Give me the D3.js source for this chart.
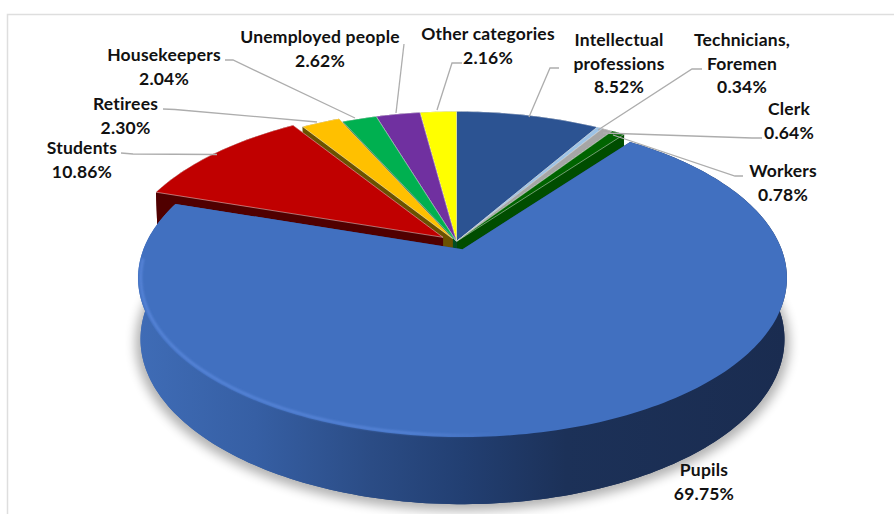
<!DOCTYPE html>
<html>
<head>
<meta charset="utf-8">
<script src="https://cdn.jsdelivr.net/npm/d3@7"></script>
<style>
html,body{margin:0;padding:0;background:#fff;}
svg{display:block;}
text{font-family:Lato,"Open Sans",sans-serif;font-weight:700;font-size:17.5px;letter-spacing:0.2px;fill:#111;text-anchor:middle;}
</style>
</head>
<body>
<svg id="chart" width="894" height="514"></svg>
<script>
// Occupational breakdown, clockwise from twelve o'clock
const categories = ["Intellectual professions","Technicians, Foremen","Clerk","Workers","Pupils","Students","Retirees","Housekeepers","Unemployed people","Other categories"];
const shares = [8.52,0.34,0.64,0.78,69.75,10.86,2.30,2.04,2.62,2.16];
const topColors = ["#2c5392","#9dc3e6","#a6a6a6","#006400","#4170c0","#c00000","#ffc000","#00b050","#7030a0","#ffff00"];
const wallColors = ["#1a3158","#5e7a94","#666666","#004d00","#2b4c85","#500000","#6b5200","#004f24","#32154a","#707000"];
const explosions = [0,0,0,0,20,17,8,0,0,0];

// Line breaks of the data labels, and where each label block sits
const labelLines = [["Intellectual","professions"],["Technicians,","Foremen"],["Clerk"],["Workers"],["Pupils"],["Students"],["Retirees"],["Housekeepers"],["Unemployed people"],["Other categories"]];
const labelAnchors = [[619,46],[742,46],[789,115],[783,177],[704,476],[82,154],[125.5,110],[164,61],[320,43],[488,40]];
const leaderPaths = [
  [[559,68],[550,68],[529,117]],
  [[702,69],[692,69],[598,130]],
  [[762,138],[752,138],[603,133]],
  [[743,176],[735,176],[613,135]],
  [],
  [[121,153],[133,154],[217,154.5]],
  [[163,109],[175,109.5],[317,122]],
  [[225,60],[233,60],[355,118]],
  [[404,44],[396,113]],
  [[462,63],[452,63],[437,110]]
];

const svg = d3.select("#chart");
const defs = svg.append("defs");
const lineGen = d3.line();

// Perspective view of the disc: the near edge is larger than the far edge
const hub = {x:456.5, y:241.5};
const view = {a:319, b:153.7, k:0.182, depth:60};
function project(angle, radius, height, apex){
  const u = Math.sin(angle)*radius, v = Math.cos(angle)*radius;
  const w = 1 + view.k*v;
  return [
    apex.x + view.a*(1-0.0075*height)*u/w,
    apex.y + view.depth*height - view.b*(1+0.038*height)*v/w
  ];
}
function arcPoints(a0, a1, height, apex, radius=1){
  const n = Math.max(2, Math.ceil(Math.abs(a1-a0)/0.02));
  return d3.range(n+1).map(i => project(a0+(a1-a0)*i/n, radius, height, apex));
}

const pie = d3.pie().sort(null).startAngle(0).endAngle(2*Math.PI);
const slices = pie(shares).map((d,i) => {
  const mid = (d.startAngle+d.endAngle)/2, m = explosions[i];
  return {i, a0:d.startAngle, a1:d.endAngle,
    apex:{x:hub.x+m*Math.sin(mid), y:hub.y-m*0.4*Math.cos(mid)}};
});

// Page frame
svg.append("path").attr("d","M7.5,514V14.5H894").attr("fill","none").attr("stroke","#dedede").attr("stroke-width",1.5);

// Soft drop shadow under the big slice
defs.append("filter").attr("id","shadow").attr("x","-10%").attr("y","-10%").attr("width","120%").attr("height","125%")
  .append("feGaussianBlur").attr("stdDeviation",5.5);
const big = slices[4];
svg.append("path")
  .attr("d",lineGen(arcPoints(big.a0,big.a1,1,big.apex,1.015).map(p=>[p[0],p[1]+3]))+"Z")
  .attr("fill","#000").attr("opacity",0.3).attr("filter","url(#shadow)");

// Shading across the side wall of the big slice
const wallGrad = defs.append("linearGradient").attr("id","wallGrad").attr("gradientUnits","userSpaceOnUse")
  .attr("x1",138).attr("x2",787).attr("y1",0).attr("y2",0);
[[0,"#3f6cb6"],[0.18,"#365fa4"],[0.36,"#2b4c85"],[0.5,"#223f72"],[0.66,"#1c3158"],[1,"#1a2c50"]]
  .forEach(s=>wallGrad.append("stop").attr("offset",s[0]).attr("stop-color",s[1]));

// Bright bevel along the front rim
const rimGrad = defs.append("linearGradient").attr("id","rimGrad").attr("gradientUnits","userSpaceOnUse")
  .attr("x1",138).attr("x2",787).attr("y1",0).attr("y2",0);
[[0,"#5a88dc",0.9],[0.42,"#5a88dc",0.8],[0.56,"#5a88dc",0]]
  .forEach(s=>rimGrad.append("stop").attr("offset",s[0]).attr("stop-color",s[1]).attr("stop-opacity",s[2]));
defs.append("filter").attr("id","soft").append("feGaussianBlur").attr("stdDeviation",1);

// Painted back to front: right group, left group inward to the red slice, big slice last
const paintOrder = [0,1,2,3,9,8,7,6,5,4];
paintOrder.forEach(idx => {
  const s = slices[idx];
  const fill = idx===4 ? "url(#wallGrad)" : wallColors[idx];
  const g = svg.append("g").attr("class","slice");
  const topArc = arcPoints(s.a0,s.a1,0,s.apex), lowArc = arcPoints(s.a0,s.a1,1,s.apex);
  const topApex = [s.apex.x,s.apex.y], lowApex = [s.apex.x,s.apex.y+view.depth];
  // base plus extruded side faces
  g.append("path").attr("d",lineGen([lowApex,...lowArc])+"Z").attr("fill",fill);
  g.append("path").attr("d",lineGen([...topArc,...lowArc.slice().reverse()])+"Z").attr("fill",fill);
  g.append("path").attr("d",lineGen([topApex,topArc[0],lowArc[0],lowApex])+"Z").attr("fill",fill);
  g.append("path").attr("d",lineGen([topApex,topArc[topArc.length-1],lowArc[lowArc.length-1],lowApex])+"Z").attr("fill",fill);
  // upper face
  g.append("path").attr("d",lineGen([topApex,...topArc])+"Z")
    .attr("fill",topColors[idx]).attr("stroke","rgba(255,255,255,0.55)").attr("stroke-width",idx===4?0:0.8)
    .attr("stroke-linejoin","round");
});

// Bevel highlight on the big slice, from the left side round to the front
svg.append("path")
  .attr("d",lineGen(arcPoints(Math.PI*1.48,Math.PI*0.9,0,big.apex,0.992)))
  .attr("fill","none").attr("stroke","url(#rimGrad)").attr("stroke-width",2.5).attr("filter","url(#soft)");

// Leader lines
svg.append("g").selectAll("path").data(leaderPaths.filter(p=>p.length)).join("path")
  .attr("d",d=>lineGen(d)).attr("fill","none").attr("stroke","#adadad").attr("stroke-width",1.3);

// Data labels: category on top, share below
const labels = svg.append("g").selectAll("text").data(categories).join("text")
  .attr("transform",(d,i)=>`translate(${labelAnchors[i][0]},${labelAnchors[i][1]})`);
labels.each(function(d,i){
  const t = d3.select(this);
  labelLines[i].forEach((line,j)=>t.append("tspan").attr("x",0).attr("y",j*23.5).text(line));
  t.append("tspan").attr("x",0).attr("y",labelLines[i].length*23.5).text(shares[i].toFixed(2)+"%");
});
</script>
</body>
</html>
